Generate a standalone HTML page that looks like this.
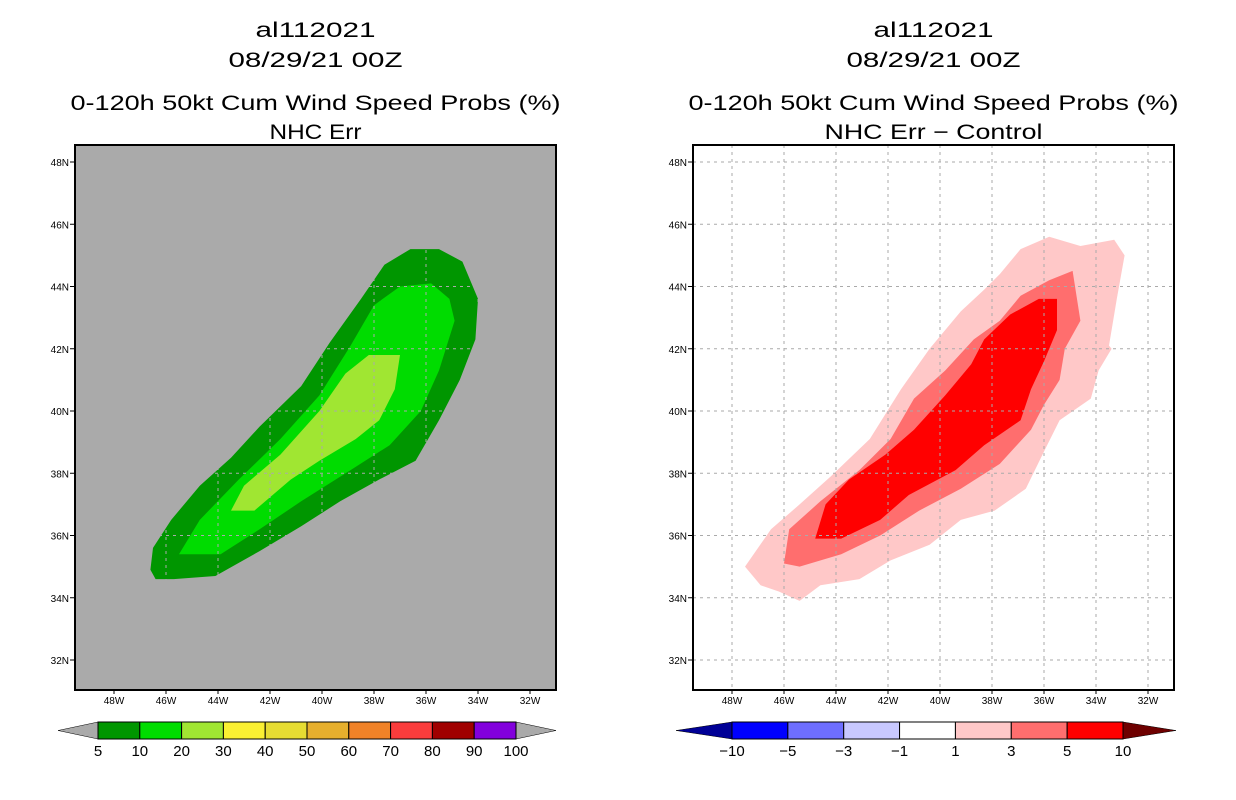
<!DOCTYPE html>
<html><head><meta charset="utf-8"><style>
html,body{margin:0;padding:0;background:#fff;}
svg{display:block;font-family:"Liberation Sans",sans-serif;}
</style></head><body>
<svg id="chart" width="1236" height="800" viewBox="0 0 1236 800" xmlns="http://www.w3.org/2000/svg"></svg>
<script>
// ---- data ----
const lonTicks = [48,46,44,42,40,38,36,34,32];
const latTicks = [48,46,44,42,40,38,36,34,32];
// left panel contours [lonW, latN]
const leftLevel5 = [[46.6,34.9],[46.5,35.6],[45.8,36.5],[44.7,37.6],[43.5,38.5],[42.4,39.5],[40.8,40.8],[39.7,42.2],[38.5,43.6],[37.6,44.7],[36.6,45.2],[35.5,45.2],[34.6,44.8],[34.0,43.6],[34.1,42.3],[34.7,41.0],[35.5,39.7],[36.4,38.4],[37.8,37.8],[39.3,37.1],[40.8,36.3],[42.4,35.5],[44.1,34.7],[45.7,34.6],[46.4,34.6]];
const leftLevel10 = [[45.5,35.4],[44.7,36.5],[43.2,37.8],[41.6,39.1],[40.1,40.5],[38.9,42.1],[38.0,43.4],[37.0,44.0],[35.8,44.1],[35.1,43.6],[34.9,42.9],[35.5,41.3],[36.2,40.0],[37.4,38.9],[38.9,38.1],[40.8,37.1],[42.4,36.2],[43.9,35.4]];
const leftLevel20 = [[43.5,36.8],[43.0,37.6],[41.6,38.6],[40.1,40.0],[39.1,41.2],[38.2,41.8],[37.0,41.8],[37.2,40.7],[37.8,39.7],[38.7,39.1],[40.1,38.4],[41.2,37.8],[42.6,36.8],[43.2,36.8]];
// right panel difference contours
const rightLevel1 = [[47.5,35.0],[46.5,36.2],[45.4,37.0],[44.2,37.9],[42.7,39.1],[41.5,40.7],[40.4,42.0],[39.2,43.2],[38.3,43.9],[37.7,44.4],[36.9,45.2],[35.8,45.6],[34.6,45.3],[33.3,45.5],[32.9,45.0],[33.2,43.6],[33.5,42.1],[33.4,42.0],[33.9,41.3],[34.2,40.4],[35.4,39.7],[36.0,38.7],[36.7,37.5],[37.9,36.8],[39.2,36.5],[40.4,35.7],[41.9,35.2],[43.1,34.6],[44.6,34.4],[45.4,33.9],[46.2,34.2],[46.9,34.4]];
const rightLevel3 = [[46.0,35.1],[45.8,36.2],[44.6,37.1],[43.1,38.1],[41.9,39.1],[41.0,40.4],[39.8,41.3],[38.7,42.3],[37.7,42.9],[36.9,43.7],[35.8,44.2],[34.9,44.5],[34.6,42.9],[35.2,42.0],[35.4,41.0],[36.0,40.2],[36.5,39.4],[37.7,38.3],[39.2,37.5],[40.8,36.8],[42.3,36.0],[43.8,35.4],[45.4,35.0]];
const rightLevel5 = [[44.8,35.9],[44.4,37.0],[43.5,37.8],[42.1,38.6],[41.0,39.4],[39.8,40.5],[38.8,41.5],[38.3,42.3],[37.3,43.1],[36.2,43.6],[35.5,43.6],[35.5,42.6],[36.0,41.6],[36.5,40.7],[36.9,39.7],[38.3,38.9],[39.4,38.1],[41.2,37.3],[42.3,36.5],[43.8,35.9]];
const leftBarLabels = ["5","10","20","30","40","50","60","70","80","90","100"];
const leftBarColors = ["#009600","#00DC00","#A0E632","#FAF032","#E6DC32","#E6AF2D","#F08228","#FA3C3C","#A00000","#8200DC"];
const rightBarLabels = ["−10","−5","−3","−1","1","3","5","10"];
const rightBarColors = ["#0000FF","#6E6EFF","#C8C8FF","#FFFFFF","#FFC8C8","#FF6E6E","#FF0000"];

const NS="http://www.w3.org/2000/svg";
const svg=document.getElementById('chart');
function mk(tag,attrs,parent){const e=document.createElementNS(NS,tag);for(const k in attrs)e.setAttribute(k,attrs[k]);(parent||svg).appendChild(e);return e;}
const frameTop=145, frameBot=690, frameW=481;
function xScale(x0,lonW){return x0+39+(48-lonW)*26;}
function yScale(lat){return 162+(48-lat)*31.125;}

function panel(x0,name,bg,polys,titles){
  const g=mk('g',{});
  
  
  const cx=x0+frameW/2;
  const ty=[37,67,110,139], tw=titles.map(t=>t[1]);
  titles.forEach((t,i)=>{
    const el=mk('text',{x:cx,y:ty[i],'text-anchor':'middle','font-size':21,textLength:t[1],lengthAdjust:'spacingAndGlyphs',fill:'#000'},g);
    el.textContent=t[0];
    
    
  });
  const bgr=mk('rect',{x:x0,y:frameTop,width:frameW,height:frameBot-frameTop,fill:bg},g);
  
  
  polys.forEach(p=>{
    const pts=p.data.map(d=>xScale(x0,d[0]).toFixed(1)+','+yScale(d[1]).toFixed(1)).join(' ');
    const pg=mk('polygon',{points:pts,fill:p.color},g);
    
    
  });
  lonTicks.forEach(l=>{
    const x=xScale(x0,l);
    const ln=mk('line',{x1:x,x2:x,y1:frameTop,y2:frameBot,stroke:'#aaa','stroke-width':1,'stroke-dasharray':'3,4'},g);
    
    
    mk('line',{x1:x,x2:x,y1:frameBot,y2:frameBot+4,stroke:'#000'},g);
    const t=mk('text',{x:x,y:frameBot+14,'text-anchor':'middle','font-size':10},g);
    t.textContent=l+'W';
    
    
  });
  latTicks.forEach(l=>{
    const y=yScale(l);
    const ln=mk('line',{x1:x0,x2:x0+frameW,y1:y,y2:y,stroke:'#aaa','stroke-width':1,'stroke-dasharray':'3,4'},g);
    
    
    mk('line',{x1:x0-5,x2:x0,y1:y,y2:y,stroke:'#000'},g);
    const t=mk('text',{x:x0-6,y:y+4,'text-anchor':'end','font-size':10},g);
    t.textContent=l+'N';
    
    
  });
  const fr=mk('rect',{x:x0,y:frameTop,width:frameW,height:frameBot-frameTop,fill:'none',stroke:'#000','stroke-width':2},g);
  
  
}

function colorbar(x0,x1,tipL,tipR,colors,labels,lcol,rcol,name){
  const g=mk('g',{});
  
  
  const y0=722,y1=739,ym=(y0+y1)/2,w=(x1-x0)/colors.length;
  const tl=mk('polygon',{points:`${tipL},${ym} ${x0},${y0} ${x0},${y1}`,fill:lcol,stroke:'#000','stroke-width':0.5},g);
  
  
  const tr=mk('polygon',{points:`${tipR},${ym} ${x1},${y0} ${x1},${y1}`,fill:rcol,stroke:'#000','stroke-width':0.5},g);
  
  
  colors.forEach((c,i)=>{
    const r=mk('rect',{x:x0+i*w,y:y0,width:w,height:y1-y0,fill:c,stroke:'#000','stroke-width':1},g);
    
    
  });
  labels.forEach((l,i)=>{
    const t=mk('text',{x:x0+i*w,y:756,'text-anchor':'middle','font-size':15},g);
    t.textContent=l;
    
    
  });
}

panel(75,'left-panel-nhc-err','#AAAAAA',[
  {data:leftLevel5,color:'#009600',name:'contour-5-10'},
  {data:leftLevel10,color:'#00DC00',name:'contour-10-20'},
  {data:leftLevel20,color:'#A0E632',name:'contour-20-30'}],
  [['al112021',120],['08/29/21 00Z',174],['0-120h 50kt Cum Wind Speed Probs (%)',490],['NHC Err',92]]);
panel(693,'right-panel-difference','#FFFFFF',[
  {data:rightLevel1,color:'#FFC8C8',name:'contour-1-3'},
  {data:rightLevel3,color:'#FF6E6E',name:'contour-3-5'},
  {data:rightLevel5,color:'#FF0000',name:'contour-5-10'}],
  [['al112021',120],['08/29/21 00Z',174],['0-120h 50kt Cum Wind Speed Probs (%)',490],['NHC Err − Control',218]]);
colorbar(98,516,58,556,leftBarColors,leftBarLabels,'#AAAAAA','#AAAAAA','left-colorbar');
colorbar(732,1123,676,1176,rightBarColors,rightBarLabels,'#000096','#6E0000','right-colorbar');
</script>
</body></html>
